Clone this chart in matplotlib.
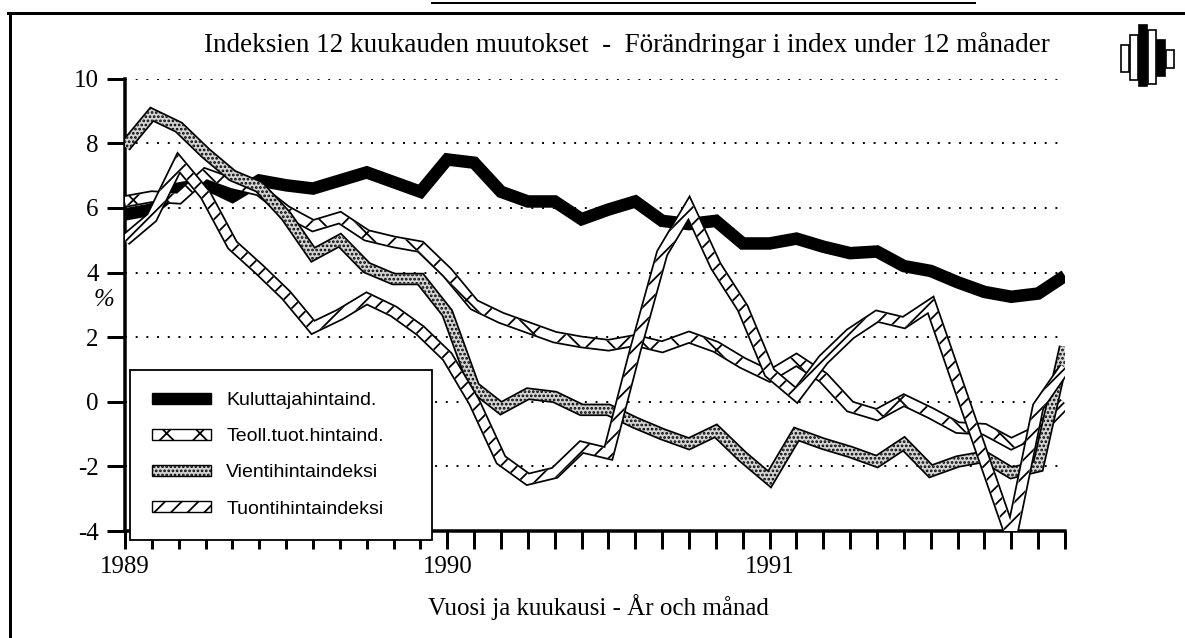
import numpy as np
import matplotlib.pyplot as plt
from matplotlib.patches import Patch, Polygon, Rectangle
from matplotlib.lines import Line2D

# 12 month changes, %, monthly 1989-01 .. 1991-12
kuluttaja = [5.8, 5.95, 6.6, 6.75, 6.35, 6.85, 6.7, 6.6, 6.85, 7.1, 6.8, 6.5,
             7.5, 7.4, 6.5, 6.2, 6.2, 5.65, 5.95, 6.2, 5.6, 5.5, 5.6, 4.9,
             4.9, 5.05, 4.8, 4.6, 4.65, 4.2, 4.05, 3.7, 3.4, 3.25, 3.35, 3.9]
teoll = [6.2, 6.35, 6.3, 7.05, 6.75, 6.55, 5.9, 5.45, 5.7, 5.15, 4.95, 4.8,
         4.0, 3.0, 2.6, 2.3, 2.0, 1.85, 1.75, 1.9, 1.7, 2.0, 1.7, 1.2,
         0.8, 1.3, 0.75, -0.15, -0.4, 0.05, -0.35, -0.8, -0.85, -1.3, -0.9, -0.05]
vienti = [7.9, 8.9, 8.5, 7.7, 7.0, 6.65, 5.75, 4.55, 5.0, 4.15, 3.8, 3.8,
          2.75, 0.45, -0.2, 0.25, 0.15, -0.25, -0.25, -0.65, -1.0, -1.3, -0.9, -1.7,
          -2.4, -1.0, -1.3, -1.55, -1.85, -1.3, -2.15, -1.85, -1.7, -2.2, -2.0, 1.7]
tuonti = [5.0, 5.7, 7.4, 6.4, 4.85, 4.1, 3.3, 2.3, 2.7, 3.2, 2.8, 2.2,
          1.4, 0.0, -1.8, -2.4, -2.2, -1.4, -1.6, 1.6, 4.6, 6.0, 4.2, 2.9,
          0.9, 0.2, 1.3, 2.1, 2.65, 2.45, 3.0, 0.6, -1.8, -4.2, -0.15, 1.05]

labels = ["Kuluttajahintaind.", "Teoll.tuot.hintaind.",
          "Vientihintaindeksi", "Tuontihintaindeksi"]
years = ["1989", "1990", "1991"]
yticks = [-4, -2, 0, 2, 4, 6, 8, 10]
ytick_labels = ["-4", "-2", "0", "2", "4", "6", "8", "10"]

serif = "Liberation Serif"
sans = "Liberation Sans"
plt.rcParams['hatch.linewidth'] = 1.3

W, H = 1185, 638
fig = plt.figure(figsize=(W / 100, H / 100), dpi=100)
ax = fig.add_axes([125 / W, 1 - 531 / H, 940 / W, (531 - 78.7) / H])
x = np.arange(len(kuluttaja))
ax.set_xlim(0, len(x) - 1)
ax.set_ylim(-4, 10)


def pt(p):
    # pixels -> points at 100 dpi
    return p * 0.72


def band(ax, xs, ys, width):
    # polygon of a stroke of given pixel width, built in display space
    pts = ax.transData.transform(np.column_stack([xs, ys]))
    d = np.diff(pts, axis=0)
    t = d / np.hypot(d[:, 0], d[:, 1])[:, None]
    nrm = np.column_stack([-t[:, 1], t[:, 0]])
    left, right = [], []
    for i in range(len(pts)):
        if i == 0:
            m = nrm[0]
        elif i == len(pts) - 1:
            m = nrm[-1]
        else:
            m = nrm[i - 1] + nrm[i]
            m = m / np.hypot(*m)
            m = m / max(np.dot(m, nrm[i]), 0.3)
        left.append(pts[i] + m * width / 2)
        right.append(pts[i] - m * width / 2)
    poly = np.vstack([left, right[::-1]])
    return ax.transData.inverted().transform(poly)


# consumer prices: thick solid black
ax.plot(x, kuluttaja, color="black", lw=pt(12.5), solid_joinstyle="miter",
        solid_capstyle="butt", zorder=3)

styles = [(teoll, "white", "x"), (vienti, "#d4d4d4", "...."), (tuonti, "white", "//")]
z = 4
for ys, fc, h in styles:
    ax.plot(x, ys, color="black", lw=pt(12.5), solid_joinstyle="miter",
            solid_capstyle="butt", zorder=z)
    ax.plot(x, ys, color=fc, lw=pt(9), solid_joinstyle="miter",
            solid_capstyle="butt", zorder=z + 0.1)
    ax.add_patch(Polygon(band(ax, x, ys, 9), closed=True, facecolor="none",
                         edgecolor="black", lw=0, hatch=h, zorder=z + 0.2))
    z += 1

# axes
for s in ["top", "right"]:
    ax.spines[s].set_visible(False)
for s in ["left", "bottom"]:
    ax.spines[s].set_linewidth(pt(3.5))
ax.set_yticks(yticks, ytick_labels, fontfamily=serif, fontsize=18)
xt = [""] * len(x)
for k, yr in enumerate(years):
    xt[12 * k] = yr
ax.set_xticks(x, xt, fontfamily=serif, fontsize=18)
ax.tick_params(axis="both", direction="out", length=pt(18), width=pt(3), color="black")
ax.tick_params(axis="y", pad=6)
ax.tick_params(axis="x", pad=5)
ax.yaxis.grid(True, linestyle=(0, (1, 4.5)), lw=1.4, color="black")
ax.set_axisbelow(True)

# legend
handles = [Patch(facecolor="black", edgecolor="black"),
           Patch(facecolor="white", edgecolor="black", hatch="x"),
           Patch(facecolor="#d4d4d4", edgecolor="black", hatch="...."),
           Patch(facecolor="white", edgecolor="black", hatch="//")]
leg = ax.legend(handles, labels, loc="upper left", mode="expand",
                bbox_to_anchor=(130 / W, 1 - 538 / H, 302 / W, 168 / H),
                bbox_transform=fig.transFigure,
                borderaxespad=0, fancybox=False, framealpha=1, edgecolor="black",
                prop={"family": sans, "size": 14}, handlelength=3.0, handleheight=0.5,
                handletextpad=0.8, labelspacing=0.98, borderpad=1.15)
leg.get_frame().set_linewidth(1.3)
leg.set_zorder(20)

# texts
fig.text(627 / W, 1 - 45 / H,
         "Indeksien 12 kuukauden muutokset  -  Förändringar i index under 12 månader",
         ha="center", va="center", fontfamily=serif, fontsize=19.5)
fig.text(104 / W, 1 - 300 / H, "%", ha="center", va="center", fontfamily=serif,
         fontsize=18, style="italic")
fig.text(598 / W, 1 - 607 / H, "Vuosi ja kuukausi - År och månad",
         ha="center", va="center", fontfamily=serif, fontsize=18)

# frame
fig.add_artist(Line2D([8 / W, 1], [1 - 13 / H, 1 - 13 / H], color="black", lw=pt(3)))
fig.add_artist(Line2D([10 / W, 10 / W], [1 - 13 / H, 0], color="black", lw=pt(3)))
fig.add_artist(Line2D([432 / W, 975 / W], [1 - 3 / H, 1 - 3 / H], color="black", lw=pt(2)))

# logo (rough)
for bx, by0, by1, col in [(1121, 45, 72, "white"), (1130, 35, 80, "white"),
                          (1139, 25, 86, "black"), (1148, 30, 84, "white"),
                          (1157, 40, 76, "black"), (1166, 50, 68, "white")]:
    fig.add_artist(Rectangle((bx / W, 1 - by1 / H), 8 / W, (by1 - by0) / H,
                             transform=fig.transFigure, facecolor=col,
                             edgecolor="black", lw=1.2))

fig.savefig("out.png", dpi=100)
